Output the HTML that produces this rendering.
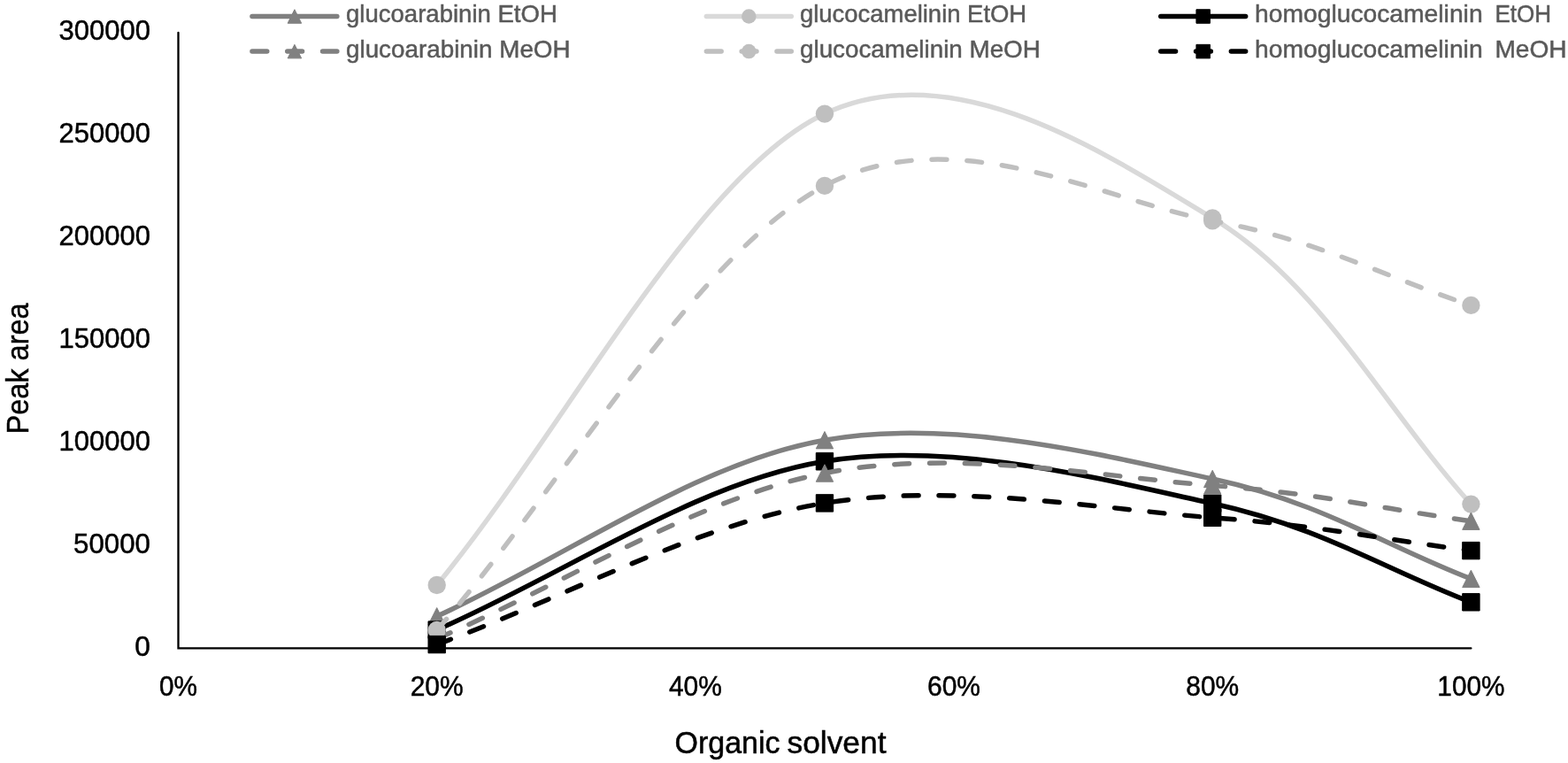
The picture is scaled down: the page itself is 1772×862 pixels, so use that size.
<!DOCTYPE html>
<html><head><meta charset="utf-8"><title>Peak area vs organic solvent</title>
<style>html,body{margin:0;padding:0;background:#fff;width:1772px;height:862px;overflow:hidden}svg{display:block}</style>
</head><body>
<svg width="1772" height="862" viewBox="0 0 1772 862">
<rect width="1772" height="862" fill="#ffffff"/>
<path d="M201.50,36.8 L201.50,732.4 L1662.40,732.4" fill="none" stroke="#000" stroke-width="2.3" stroke-linecap="round"/>
<text x="169.9" y="44.70" text-anchor="end" font-size="31.7" font-family="'Liberation Sans', Arial, sans-serif" fill="#000" stroke="#000" stroke-width="0.5" textLength="103.4" lengthAdjust="spacingAndGlyphs">300000</text>
<text x="169.9" y="160.70" text-anchor="end" font-size="31.7" font-family="'Liberation Sans', Arial, sans-serif" fill="#000" stroke="#000" stroke-width="0.5" textLength="103.4" lengthAdjust="spacingAndGlyphs">250000</text>
<text x="169.9" y="276.70" text-anchor="end" font-size="31.7" font-family="'Liberation Sans', Arial, sans-serif" fill="#000" stroke="#000" stroke-width="0.5" textLength="103.4" lengthAdjust="spacingAndGlyphs">200000</text>
<text x="169.9" y="392.70" text-anchor="end" font-size="31.7" font-family="'Liberation Sans', Arial, sans-serif" fill="#000" stroke="#000" stroke-width="0.5" textLength="103.4" lengthAdjust="spacingAndGlyphs">150000</text>
<text x="169.9" y="508.70" text-anchor="end" font-size="31.7" font-family="'Liberation Sans', Arial, sans-serif" fill="#000" stroke="#000" stroke-width="0.5" textLength="103.4" lengthAdjust="spacingAndGlyphs">100000</text>
<text x="169.9" y="624.70" text-anchor="end" font-size="31.7" font-family="'Liberation Sans', Arial, sans-serif" fill="#000" stroke="#000" stroke-width="0.5" textLength="86.8" lengthAdjust="spacingAndGlyphs">50000</text>
<text x="169.9" y="740.70" text-anchor="end" font-size="31.7" font-family="'Liberation Sans', Arial, sans-serif" fill="#000" stroke="#000" stroke-width="0.5">0</text>
<text x="201.50" y="786.3" text-anchor="middle" font-size="31.7" font-family="'Liberation Sans', Arial, sans-serif" fill="#000" stroke="#000" stroke-width="0.5" textLength="43.04" lengthAdjust="spacingAndGlyphs">0%</text>
<text x="493.68" y="786.3" text-anchor="middle" font-size="31.7" font-family="'Liberation Sans', Arial, sans-serif" fill="#000" stroke="#000" stroke-width="0.5" textLength="59.94" lengthAdjust="spacingAndGlyphs">20%</text>
<text x="785.86" y="786.3" text-anchor="middle" font-size="31.7" font-family="'Liberation Sans', Arial, sans-serif" fill="#000" stroke="#000" stroke-width="0.5" textLength="59.94" lengthAdjust="spacingAndGlyphs">40%</text>
<text x="1078.04" y="786.3" text-anchor="middle" font-size="31.7" font-family="'Liberation Sans', Arial, sans-serif" fill="#000" stroke="#000" stroke-width="0.5" textLength="59.94" lengthAdjust="spacingAndGlyphs">60%</text>
<text x="1370.22" y="786.3" text-anchor="middle" font-size="31.7" font-family="'Liberation Sans', Arial, sans-serif" fill="#000" stroke="#000" stroke-width="0.5" textLength="59.94" lengthAdjust="spacingAndGlyphs">80%</text>
<text x="1662.40" y="786.3" text-anchor="middle" font-size="31.7" font-family="'Liberation Sans', Arial, sans-serif" fill="#000" stroke="#000" stroke-width="0.5" textLength="76.17" lengthAdjust="spacingAndGlyphs">100%</text>
<text y="850.5" font-size="35.5" font-family="'Liberation Sans', Arial, sans-serif" fill="#000" stroke="#000" stroke-width="0.5"><tspan x="762.5" textLength="119" lengthAdjust="spacingAndGlyphs">Organic</tspan> <tspan x="889.5" textLength="112" lengthAdjust="spacingAndGlyphs">solvent</tspan></text>
<text transform="translate(31.5,490.5) rotate(-90)" x="0" y="0" font-size="35" font-family="'Liberation Sans', Arial, sans-serif" fill="#000" stroke="#000" stroke-width="0.5" textLength="148.1" lengthAdjust="spacingAndGlyphs">Peak area</text>
<path d="M493.68,696.30 C639.77,629.93 785.86,523.08 931.95,497.20 C1078.04,471.32 1248.48,514.88 1370.22,541.00 C1491.96,567.12 1565.01,616.27 1662.40,653.90" fill="none" stroke="#808080" stroke-width="5.50" stroke-linecap="round" stroke-linejoin="round"/>
<path d="M493.68,686.60 L503.38,706.00 L483.98,706.00 Z" fill="#808080" stroke="#808080" stroke-width="1" stroke-linejoin="round"/>
<path d="M931.95,487.50 L941.65,506.90 L922.25,506.90 Z" fill="#808080" stroke="#808080" stroke-width="1" stroke-linejoin="round"/>
<path d="M1370.22,531.30 L1379.92,550.70 L1360.52,550.70 Z" fill="#808080" stroke="#808080" stroke-width="1" stroke-linejoin="round"/>
<path d="M1662.40,644.20 L1672.10,663.60 L1652.70,663.60 Z" fill="#808080" stroke="#808080" stroke-width="1" stroke-linejoin="round"/>
<path d="M493.68,661.00 C639.77,483.53 785.86,197.70 931.95,128.60 C1078.04,59.50 1248.48,172.90 1370.22,246.40 C1491.96,319.90 1565.01,461.87 1662.40,569.60" fill="none" stroke="#d9d9d9" stroke-width="5.50" stroke-linecap="round" stroke-linejoin="round"/>
<circle cx="493.68" cy="661.00" r="10.20" fill="#bfbfbf"/>
<circle cx="931.95" cy="128.60" r="10.20" fill="#bfbfbf"/>
<circle cx="1370.22" cy="246.40" r="10.20" fill="#bfbfbf"/>
<circle cx="1662.40" cy="569.60" r="10.20" fill="#bfbfbf"/>
<path d="M493.68,711.60 C639.77,648.17 785.86,545.12 931.95,521.30 C1078.04,497.48 1248.48,542.20 1370.22,568.70 C1491.96,595.20 1565.01,643.10 1662.40,680.30" fill="none" stroke="#000000" stroke-width="5.50" stroke-linecap="round" stroke-linejoin="round"/>
<rect x="483.98" y="701.90" width="19.40" height="19.40" fill="#000000" stroke="#000000" stroke-width="1" stroke-linejoin="round"/>
<rect x="922.25" y="511.60" width="19.40" height="19.40" fill="#000000" stroke="#000000" stroke-width="1" stroke-linejoin="round"/>
<rect x="1360.52" y="559.00" width="19.40" height="19.40" fill="#000000" stroke="#000000" stroke-width="1" stroke-linejoin="round"/>
<rect x="1652.70" y="670.60" width="19.40" height="19.40" fill="#000000" stroke="#000000" stroke-width="1" stroke-linejoin="round"/>
<path d="M493.68,721.50 C639.77,659.17 785.86,563.33 931.95,534.50 C1078.04,505.67 1248.48,539.47 1370.22,548.50 C1491.96,557.53 1565.01,575.30 1662.40,588.70" fill="none" stroke="#808080" stroke-width="5.50" stroke-linecap="round" stroke-linejoin="round" stroke-dasharray="16.8 23.0"/>
<path d="M493.68,711.80 L503.38,731.20 L483.98,731.20 Z" fill="#808080" stroke="#808080" stroke-width="1" stroke-linejoin="round"/>
<path d="M931.95,524.80 L941.65,544.20 L922.25,544.20 Z" fill="#808080" stroke="#808080" stroke-width="1" stroke-linejoin="round"/>
<path d="M1370.22,538.80 L1379.92,558.20 L1360.52,558.20 Z" fill="#808080" stroke="#808080" stroke-width="1" stroke-linejoin="round"/>
<path d="M1662.40,579.00 L1672.10,598.40 L1652.70,598.40 Z" fill="#808080" stroke="#808080" stroke-width="1" stroke-linejoin="round"/>
<path d="M493.68,712.00 C639.77,544.63 785.86,287.00 931.95,209.90 C1078.04,132.80 1248.48,226.90 1370.22,249.40 C1491.96,271.90 1565.01,313.07 1662.40,344.90" fill="none" stroke="#bfbfbf" stroke-width="5.50" stroke-linecap="round" stroke-linejoin="round" stroke-dasharray="16.8 23.0"/>
<circle cx="493.68" cy="712.00" r="10.20" fill="#bfbfbf"/>
<circle cx="931.95" cy="209.90" r="10.20" fill="#bfbfbf"/>
<circle cx="1370.22" cy="249.40" r="10.20" fill="#bfbfbf"/>
<circle cx="1662.40" cy="344.90" r="10.20" fill="#bfbfbf"/>
<path d="M493.68,728.10 C639.77,674.87 785.86,592.28 931.95,568.40 C1078.04,544.52 1248.48,575.85 1370.22,584.80 C1491.96,593.75 1565.01,609.67 1662.40,622.10" fill="none" stroke="#000000" stroke-width="5.50" stroke-linecap="round" stroke-linejoin="round" stroke-dasharray="16.8 23.0"/>
<rect x="483.98" y="718.40" width="19.40" height="19.40" fill="#000000" stroke="#000000" stroke-width="1" stroke-linejoin="round"/>
<rect x="922.25" y="558.70" width="19.40" height="19.40" fill="#000000" stroke="#000000" stroke-width="1" stroke-linejoin="round"/>
<rect x="1360.52" y="575.10" width="19.40" height="19.40" fill="#000000" stroke="#000000" stroke-width="1" stroke-linejoin="round"/>
<rect x="1652.70" y="612.40" width="19.40" height="19.40" fill="#000000" stroke="#000000" stroke-width="1" stroke-linejoin="round"/>
<path d="M284.95,18.50 L380.85,18.50" stroke="#808080" stroke-width="5.50" stroke-linecap="round"/>
<path d="M332.90,10.75 L340.65,26.25 L325.15,26.25 Z" fill="#808080" stroke="#808080" stroke-width="1" stroke-linejoin="round"/>
<path d="M284.95,58.10 L380.85,58.10" stroke="#808080" stroke-width="5.50" stroke-linecap="round" stroke-dasharray="16.8 23.0"/>
<path d="M332.90,50.35 L340.65,65.85 L325.15,65.85 Z" fill="#808080" stroke="#808080" stroke-width="1" stroke-linejoin="round"/>
<path d="M798.35,18.50 L894.25,18.50" stroke="#d9d9d9" stroke-width="5.50" stroke-linecap="round"/>
<circle cx="846.30" cy="18.50" r="8.25" fill="#bfbfbf"/>
<path d="M798.35,58.10 L894.25,58.10" stroke="#bfbfbf" stroke-width="5.50" stroke-linecap="round" stroke-dasharray="16.8 23.0"/>
<circle cx="846.30" cy="58.10" r="8.25" fill="#bfbfbf"/>
<path d="M1311.75,18.50 L1407.65,18.50" stroke="#000000" stroke-width="5.50" stroke-linecap="round"/>
<rect x="1351.95" y="10.75" width="15.50" height="15.50" fill="#000000" stroke="#000000" stroke-width="1" stroke-linejoin="round"/>
<path d="M1311.75,58.10 L1407.65,58.10" stroke="#000000" stroke-width="5.50" stroke-linecap="round" stroke-dasharray="16.8 23.0"/>
<rect x="1351.95" y="50.35" width="15.50" height="15.50" fill="#000000" stroke="#000000" stroke-width="1" stroke-linejoin="round"/>
<text x="391.00" y="25.40" font-size="27.9" font-family="'Liberation Sans', Arial, sans-serif" fill="#595959" stroke="#595959" stroke-width="0.5" textLength="238.8" lengthAdjust="spacingAndGlyphs">glucoarabinin EtOH</text>
<text x="391.00" y="65.10" font-size="27.9" font-family="'Liberation Sans', Arial, sans-serif" fill="#595959" stroke="#595959" stroke-width="0.5" textLength="253.6" lengthAdjust="spacingAndGlyphs">glucoarabinin MeOH</text>
<text x="904.00" y="25.40" font-size="27.9" font-family="'Liberation Sans', Arial, sans-serif" fill="#595959" stroke="#595959" stroke-width="0.5" textLength="256.2" lengthAdjust="spacingAndGlyphs">glucocamelinin EtOH</text>
<text x="904.00" y="65.10" font-size="27.9" font-family="'Liberation Sans', Arial, sans-serif" fill="#595959" stroke="#595959" stroke-width="0.5" textLength="271.8" lengthAdjust="spacingAndGlyphs">glucocamelinin MeOH</text>
<text y="25.40" font-size="27.9" font-family="'Liberation Sans', Arial, sans-serif" fill="#595959" stroke="#595959" stroke-width="0.5"><tspan x="1418.0" textLength="257.6" lengthAdjust="spacingAndGlyphs">homoglucocamelinin</tspan> <tspan x="1689.4" textLength="63.6" lengthAdjust="spacingAndGlyphs">EtOH</tspan></text>
<text y="65.10" font-size="27.9" font-family="'Liberation Sans', Arial, sans-serif" fill="#595959" stroke="#595959" stroke-width="0.5"><tspan x="1418.0" textLength="257.6" lengthAdjust="spacingAndGlyphs">homoglucocamelinin</tspan> <tspan x="1689.4" textLength="81.2" lengthAdjust="spacingAndGlyphs">MeOH</tspan></text>
</svg>
</body></html>
